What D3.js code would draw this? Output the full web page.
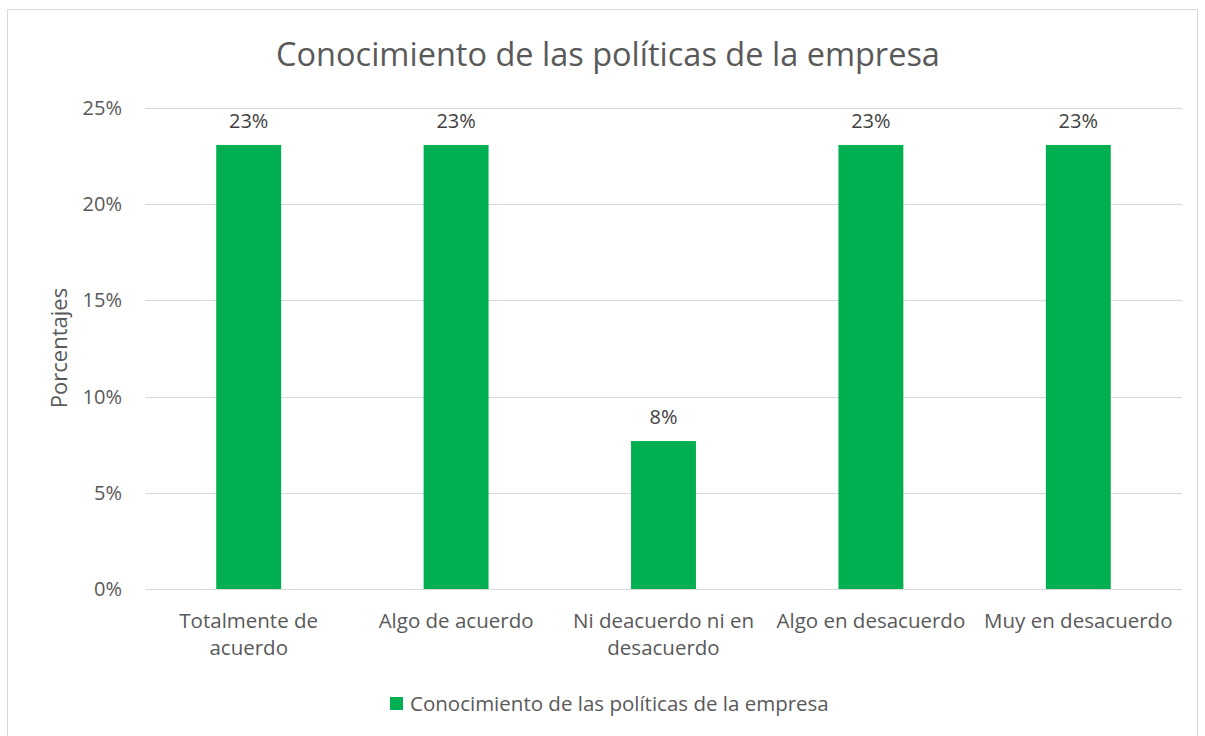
<!DOCTYPE html>
<html><head><meta charset="utf-8">
<script src="https://cdn.jsdelivr.net/npm/d3@7"></script>
<style>body{margin:0;background:#fff;} svg{display:block;} text{font-family:"Open Sans",sans-serif;}</style>
</head><body>
<svg id="c" width="1205" height="736"></svg>
<script>
const categories = [["Totalmente de","acuerdo"],["Algo de acuerdo"],["Ni deacuerdo ni en","desacuerdo"],["Algo en desacuerdo"],["Muy en desacuerdo"]];
const values = [0.2308, 0.2308, 0.0769, 0.2308, 0.2308];
const valueLabels = ["23%","23%","8%","23%","23%"];
const yTicks = [0, 0.05, 0.10, 0.15, 0.20, 0.25];
const seriesName = "Conocimiento de las políticas de la empresa";
const chartTitle = "Conocimiento de las políticas de la empresa";
const yTitle = "Porcentajes";

const svg = d3.select("#c");
const m = {l:145, r:1182, t:108, b:589};
svg.append("rect").attr("x",7.5).attr("y",9.5).attr("width",1190).attr("height",740)
  .attr("fill","#fff").attr("stroke","#d9d9d9").attr("stroke-width",1);

const x = d3.scaleBand().domain(d3.range(categories.length)).range([m.l,m.r]).paddingInner(0.687).paddingOuter(0.3435);
const y = d3.scaleLinear().domain([0,0.25]).range([m.b,m.t]);

svg.append("g").selectAll("line").data(yTicks).join("line")
  .attr("x1",m.l).attr("x2",m.r).attr("y1",d=>Math.round(y(d))+0.5).attr("y2",d=>Math.round(y(d))+0.5)
  .attr("stroke","#d9d9d9").attr("stroke-width",1);

const yAxis = d3.axisLeft(y).tickValues(yTicks).tickFormat(d3.format(".0%")).tickSize(0).tickPadding(23);
const ga = svg.append("g").attr("transform",`translate(${m.l},0)`).call(yAxis);
ga.select(".domain").remove();
ga.selectAll("text").attr("font-size",20).attr("fill","#595959").attr("font-family","Open Sans");

svg.append("g").selectAll("rect").data(values).join("rect")
  .attr("x",(d,i)=>x(i)).attr("width",x.bandwidth())
  .attr("y",d=>y(d)).attr("height",d=>y(0)-y(d)).attr("fill","#00B050");

svg.append("g").selectAll("text").data(values).join("text")
  .attr("x",(d,i)=>x(i)+x.bandwidth()/2).attr("y",d=>y(d)-17)
  .attr("text-anchor","middle").attr("font-size",20).attr("fill","#404040")
  .text((d,i)=>valueLabels[i]);

const xl = svg.append("g").selectAll("text").data(categories).join("text")
  .attr("x",(d,i)=>x(i)+x.bandwidth()/2).attr("y",628)
  .attr("text-anchor","middle").attr("font-size",20.5).attr("fill","#595959");
xl.selectAll("tspan").data(d=>d).join("tspan")
  .attr("x",function(){return this.parentNode.getAttribute("x");})
  .attr("dy",(d,i)=>i===0?0:27).text(d=>d);

svg.append("text").attr("x",608).attr("y",66).attr("text-anchor","middle")
  .attr("font-size",32.5).attr("fill","#595959").text(chartTitle);

svg.append("text").attr("transform","translate(67,348) rotate(-90)").attr("text-anchor","middle")
  .attr("font-size",22).attr("fill","#595959").text(yTitle);

svg.append("rect").attr("x",390).attr("y",697).attr("width",13).attr("height",13).attr("fill","#00B050");
svg.append("text").attr("x",410).attr("y",711).attr("font-size",20.5).attr("fill","#595959").text(seriesName);
</script>
</body></html>
